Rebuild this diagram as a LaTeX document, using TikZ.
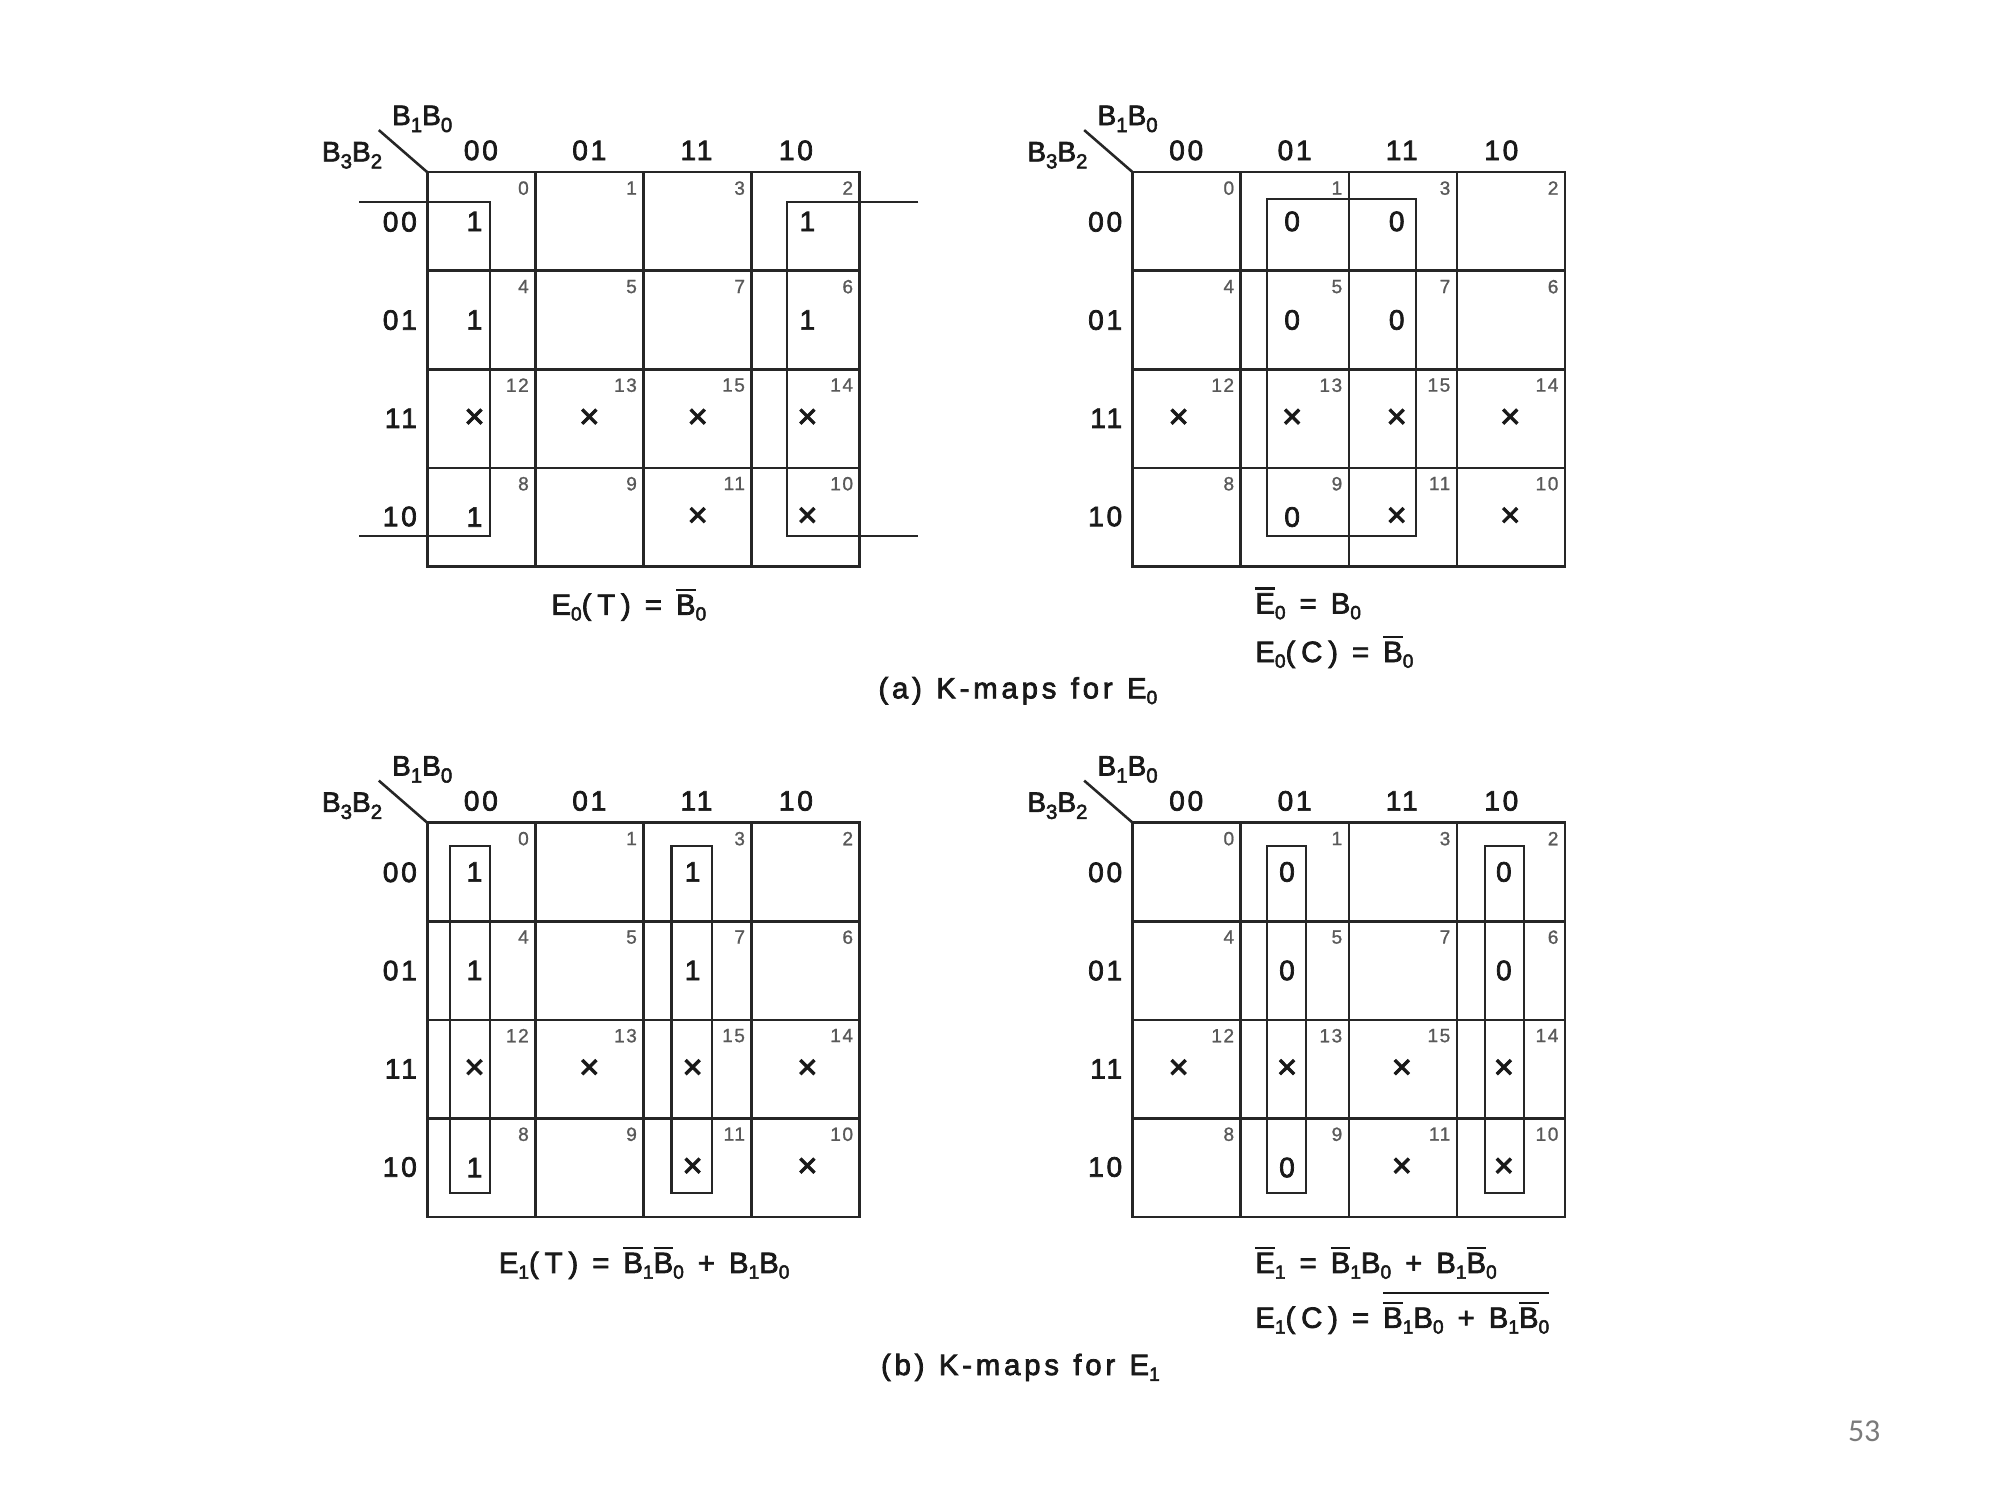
\documentclass[tikz,border=0pt]{standalone}
\usepackage{fontspec}
\setmainfont[LetterSpace=10, FakeBold=2.5]{Liberation Sans}
\newfontfamily\eqfont[LetterSpace=20, WordSpace=1.0, FakeBold=2.5]{Liberation Sans}
\newfontfamily\capfont[LetterSpace=13, WordSpace=1.2, FakeBold=2.5]{Liberation Sans}
\newfontfamily\numfont[LetterSpace=8, FakeBold=1]{Liberation Sans}
\newfontfamily\pgnumfont{Carlito}
\newcommand\subs[1]{\raisebox{-4.5pt}{\fontsize{15}{15}\selectfont #1}}
\newcommand\lsubs[1]{\raisebox{-5.5pt}{\fontsize{16}{16}\selectfont #1}}
\newcommand\ob[1]{\vbox{\hrule height 1.6pt\kern 3pt\hbox{#1}}}
\newcommand\bigob[1]{\vbox{\hrule height 1.6pt\kern 6pt\hbox{#1}}}
\newcommand\dc{{\fontsize{27}{27}\selectfont ×}}
\tikzset{
  gridline/.style={line width=2pt, draw=black!85},
  looppath/.style={line width=1.7pt, draw=black!85},
  lbl/.style={font=\fontsize{22}{26}\selectfont, text=black!90, inner sep=0pt},
  blbl/.style={font=\eqfont\fontsize{22}{26}\selectfont, text=black!90, inner sep=0pt},
  cellnum/.style={font=\numfont\fontsize{15}{17}\selectfont, text=black!65, inner sep=0pt, anchor=north east},
  cellval/.style={font=\fontsize{22}{26}\selectfont, text=black!90, inner sep=0pt},
  eqn/.style={font=\eqfont\fontsize{23}{27}\selectfont, text=black!90, inner sep=0pt},
  capn/.style={font=\capfont\fontsize{23}{27}\selectfont, text=black!90, inner sep=0pt},
}
% #1 prefix, #2 x, #3 y, #4 values x/row/text
\newcommand\kmap[4]{%
 \begin{scope}[shift={(#2,#3)}]
  \draw[gridline] (0,0) rectangle (339,309);
  \foreach \xx in {84.75,169.5,254.25} \draw[gridline] (\xx,0) -- (\xx,309);
  \foreach \yy in {77.25,154.5,231.75} \draw[gridline] (0,\yy) -- (339,\yy);
  \coordinate (#1-corner) at (0,0);
  \coordinate (#1-diag) at (-38,-33);
  \draw[gridline] (#1-diag) -- (#1-corner);
  \node[blbl, anchor=base] (#1-cv) at (-4,-37) {B\lsubs{1}B\lsubs{0}};
  \node[blbl, anchor=base] (#1-rv) at (-59,-8.5) {B\lsubs{3}B\lsubs{2}};
  \foreach \lab/\hx [count=\i] in {00/42,01/127,11/211,10/289}
    \node[lbl, anchor=base] (#1-h\i) at (\hx,-9.5) {\lab};
  \foreach \lab/\ry [count=\i] in {00/46.5,01/123.5,11/200.5,10/277.5}
    \node[lbl, anchor=base east] (#1-r\i) at (-8,\ry) {\lab};
  \foreach \r/\rc in {0/0,1/4,2/12,3/8}
    \foreach \c/\cc in {0/0,1/1,2/3,3/2} {
      \pgfmathtruncatemacro\m{\rc+\cc}
      \node[cellnum] (#1-n\m) at ({(\c+1)*84.75-5},{\r*77.25+7}) {\m};
    }
  \foreach \vx/\vr/\vt [count=\k] in {#4}
    \node[cellval] (#1-v\k) at (\vx,{\vr*77.25+38.6}) {\vt};
 \end{scope}}
\begin{document}
\begin{tikzpicture}[x=1pt,y=-1pt]
\fill[white] (0,0) rectangle (1568,1176);
\useasboundingbox (0,0) rectangle (1568,1176);

% top-left map
\kmap{ta}{335}{135}{37/0/1,298/0/1,37/1/1,298/1/1,37/2/\dc,127/2/\dc,212/2/\dc,298/2/\dc,37/3/1,212/3/\dc,298/3/\dc}
\begin{scope}[shift={(335,135)}]
  \draw[looppath] (-53.5,23.5) -| (49,285.5) -- (-53.5,285.5);
  \draw[looppath] (385,23.5) -| (282,285.5) -- (385,285.5);
\end{scope}

% top-right map
\kmap{tb}{888}{135}{125/0/0,207/0/0,125/1/0,207/1/0,36/2/\dc,125/2/\dc,207/2/\dc,296/2/\dc,125/3/0,207/3/\dc,296/3/\dc}
\begin{scope}[shift={(888,135)}]
  \draw[looppath] (105,21) rectangle (222,285.5);
\end{scope}

% bottom-left map
\kmap{ba}{335}{645}{37/0/1,208/0/1,37/1/1,208/1/1,37/2/\dc,127/2/\dc,208/2/\dc,298/2/\dc,37/3/1,208/3/\dc,298/3/\dc}
\begin{scope}[shift={(335,645)}]
  \draw[looppath] (18,18) rectangle (49,290);
  \draw[looppath] (191.5,18) rectangle (223,290);
\end{scope}

% bottom-right map
\kmap{bb}{888}{645}{121/0/0,291/0/0,121/1/0,291/1/0,36/2/\dc,121/2/\dc,211/2/\dc,291/2/\dc,121/3/0,211/3/\dc,291/3/\dc}
\begin{scope}[shift={(888,645)}]
  \draw[looppath] (105,18) rectangle (136,290);
  \draw[looppath] (276.5,18) rectangle (306.5,290);
\end{scope}

% equations
\node[eqn, anchor=base] (eqta) at (493,482) {E\subs{0}(T) = \ob{B}\subs{0}};
\node[eqn, anchor=base west] (eqtb1) at (984,481) {\ob{E}\subs{0} = B\subs{0}};
\node[eqn, anchor=base west] (eqtb2) at (984,519) {E\subs{0}(C) = \ob{B}\subs{0}};
\node[capn, anchor=base] (capa) at (798,547.5) {(a) K-maps for E\subs{0}};

\node[eqn, anchor=base] (eqba) at (505,998) {E\subs{1}(T) = \ob{B}\subs{1}\ob{B}\subs{0} + B\subs{1}B\subs{0}};
\node[eqn, anchor=base west] (eqbb1) at (984,998) {\ob{E}\subs{1} = \ob{B}\subs{1}B\subs{0} + B\subs{1}\ob{B}\subs{0}};
\node[eqn, anchor=base west] (eqbb2) at (984,1041) {E\subs{1}(C) = \bigob{\ob{B}\subs{1}B\subs{0} + B\subs{1}\ob{B}\subs{0}}};
\node[capn, anchor=base] (capb) at (800,1078) {(b) K-maps for E\subs{1}};

\node[inner sep=0pt, anchor=base, font=\pgnumfont\fontsize{25}{30}\selectfont, text=black!52] (pg) at (1461.5,1130) {53};
\end{tikzpicture}
\end{document}
